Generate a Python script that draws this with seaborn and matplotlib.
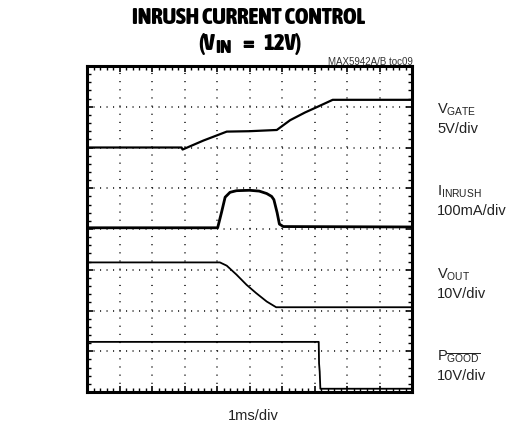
import matplotlib

matplotlib.use("Agg")
import matplotlib.font_manager as fm
import matplotlib.pyplot as plt
import seaborn as sns
from matplotlib.font_manager import FontProperties
from matplotlib.ticker import MultipleLocator, NullFormatter

# scope traces: x in divisions (1ms/div), y in divisions from the bottom of the screen
t_gate = [0, 2.91, 2.94, 3.58, 4.3, 5.0, 5.84, 6.25, 6.71, 7.07, 7.56, 10]
v_gate = [6.0, 6.0, 5.95, 6.17, 6.39, 6.40, 6.43, 6.67, 6.86, 6.99, 7.17, 7.17]

t_inrush = [0, 4.02, 4.14, 4.25, 4.4, 4.6, 5.0, 5.3, 5.53, 5.68, 5.75, 5.85, 5.92, 6.04, 10]
i_inrush = [4.03, 4.03, 4.41, 4.78, 4.9, 4.94, 4.95, 4.93, 4.87, 4.8, 4.72, 4.4, 4.12, 4.06, 4.05]

t_out = [0, 4.09, 4.3, 4.6, 4.91, 5.2, 5.53, 5.82, 10]
v_out = [3.18, 3.18, 3.1, 2.88, 2.63, 2.43, 2.22, 2.08, 2.08]

t_pgood = [0, 7.13, 7.14, 7.16, 7.18, 10]
v_pgood = [1.23, 1.23, 0.7, 0.5, 0.08, 0.08]

trace_labels = [
    ("V$_{\\mathregular{GATE}}$", "5V/div"),
    ("I$_{\\mathregular{INRUSH}}$", "100mA/div"),
    ("V$_{\\mathregular{OUT}}$", "10V/div"),
    ("P$_{\\mathregular{\\overline{GOOD}}}$", "10V/div"),
]
label_baselines = [113, 195, 278, 360]

sns.set_style("white")
plt.rcParams["font.family"] = ["Liberation Sans", "DejaVu Sans"]
plt.rcParams["text.color"] = "black"
plt.rcParams["lines.scale_dashes"] = False


def weight_num(w):
    if isinstance(w, (int, float)):
        return w
    return fm.weight_dict.get(w, 400)


# title is in a heavy condensed face, use one if installed
bold_narrow = [f for f in fm.fontManager.ttflist
               if ("Narrow" in f.name or "Condensed" in f.name)
               and f.style == "normal" and weight_num(f.weight) >= 600]
if bold_narrow:
    title_kw = dict(fname=bold_narrow[0].fname)
    title_size = 16.5
else:
    title_kw = dict(family="Liberation Sans", weight="bold")
    title_size = 12

W, H = 525, 427
fig = plt.figure(figsize=(W / 100, H / 100), dpi=100)
ax = fig.add_axes([87 / W, 34 / H, 325 / W, 326 / H])

traces = [
    (t_gate, v_gate, 1.6),
    (t_inrush, i_inrush, 2.0),
    (t_out, v_out, 1.3),
    (t_pgood, v_pgood, 1.3),
]
for t, v, lw in traces:
    sns.lineplot(x=t, y=v, ax=ax, color="black", linewidth=lw,
                 estimator=None, sort=False)

ax.set_xlim(0, 10)
ax.set_ylim(0, 8)
ax.set_xlabel("")
ax.set_ylabel("")
ax.xaxis.set_major_locator(MultipleLocator(1))
ax.xaxis.set_minor_locator(MultipleLocator(0.2))
ax.yaxis.set_major_locator(MultipleLocator(1))
ax.yaxis.set_minor_locator(MultipleLocator(0.2))
ax.xaxis.set_major_formatter(NullFormatter())
ax.yaxis.set_major_formatter(NullFormatter())
ax.tick_params(which="both", direction="in", top=True, right=True,
               bottom=True, left=True, color="black")
ax.tick_params(which="major", length=4, width=1.2)
ax.tick_params(which="minor", length=3, width=1.0)

# dotted graticule
ax.xaxis.grid(True, which="major", color="#222222", linewidth=1.2,
              linestyle=(0, (0.8, 5.07)))
ax.yaxis.grid(True, which="major", color="#222222", linewidth=1.2,
              linestyle=(0, (0.8, 3.88)))
ax.set_axisbelow(True)
for s in ax.spines.values():
    s.set_visible(True)
    s.set_color("black")
    s.set_linewidth(2.2)


def fx(px):
    return px / W


def fy(py):
    return 1 - py / H


renderer = fig.canvas.get_renderer()


def centered_run(xc, base, parts):
    # parts: (text, size, drop in px, gap before in px)
    objs = []
    for s, size, drop, gap in parts:
        t = fig.text(0, 0, s, ha="left", va="baseline",
                     fontproperties=FontProperties(size=size, **title_kw))
        objs.append((t, drop, gap, t.get_window_extent(renderer).width))
    total = sum(w + g for _, _, g, w in objs)
    x = xc - total / 2
    for t, drop, gap, w in objs:
        x += gap
        t.set_position((fx(x), fy(base + drop)))
        x += w


fig.text(fx(249), fy(18), "INRUSH CURRENT CONTROL", ha="center", va="center",
         fontproperties=FontProperties(size=title_size, **title_kw))
centered_run(250, 50, [
    ("(V", title_size, 0, 0),
    ("IN", title_size * 0.85, 3, 1),
    ("=", title_size, 0, 10),
    ("12V)", title_size, 0, 10),
])

fig.text(fx(413), fy(62), "MAX5942A/B toc09", ha="right", va="center",
         fontsize=7, color="#333333")

for (name, scale), base in zip(trace_labels, label_baselines):
    fig.text(fx(437), fy(base), name, ha="left", va="baseline",
             fontsize=10.5, color="#222222")
    fig.text(fx(437), fy(base + 20), scale, ha="left", va="baseline",
             fontsize=10.5, color="#222222")

fig.text(fx(253), fy(420), "1ms/div", ha="center", va="baseline",
         fontsize=10.5, color="#222222")

fig.savefig("out.png", dpi=100)
